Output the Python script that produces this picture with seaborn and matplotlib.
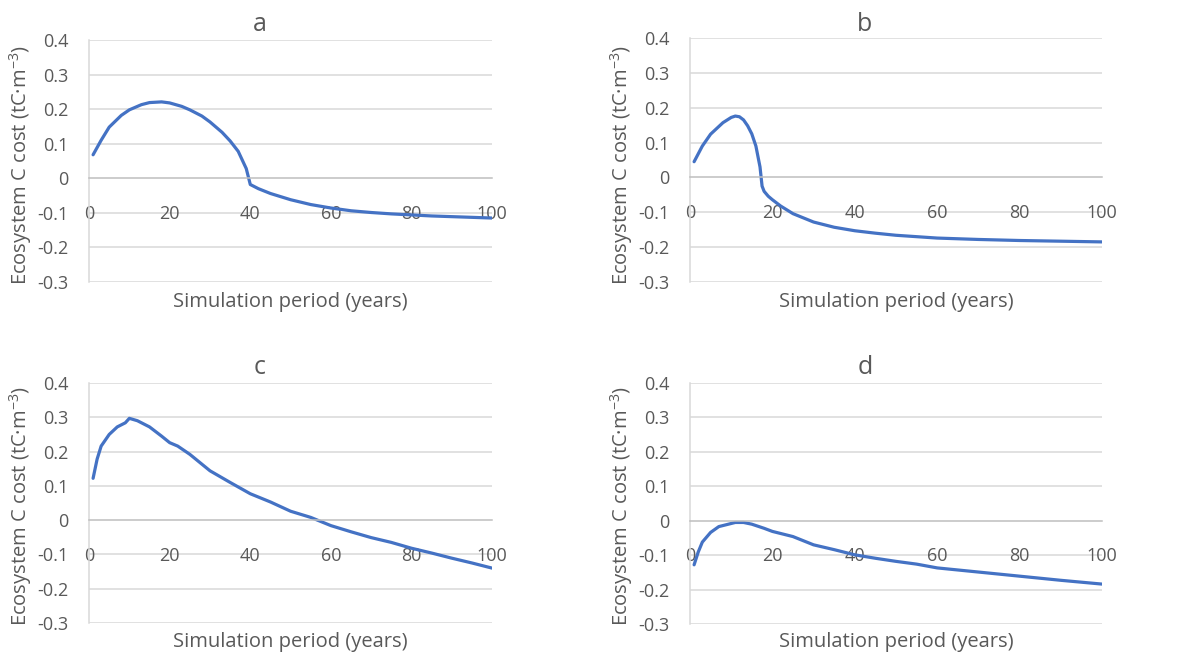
import numpy as np
import pandas as pd
import matplotlib
matplotlib.use("Agg")
import matplotlib.pyplot as plt
import seaborn as sns

# values (year, ecosystem C cost)
years_a = [1, 3, 5, 8, 10, 13, 15, 18, 20, 23, 25, 28, 30, 33, 35, 37, 39, 40, 42, 45,
           50, 55, 60, 65, 70, 75, 80, 85, 90, 95, 100]
cost_a = [0.068, 0.11, 0.148, 0.182, 0.198, 0.213, 0.219, 0.221, 0.218, 0.208, 0.198, 0.18,
          0.163, 0.133, 0.108, 0.078, 0.028, -0.018, -0.03, -0.044, -0.062, -0.076, -0.086,
          -0.094, -0.099, -0.103, -0.106, -0.109, -0.111, -0.113, -0.115]

years_b = [1, 3, 5, 8, 10, 11, 12, 13, 14, 15, 16, 17, 17.5, 18, 19, 20, 22, 25, 30, 35,
           40, 45, 50, 60, 70, 80, 90, 100]
cost_b = [0.045, 0.09, 0.124, 0.157, 0.172, 0.176, 0.174, 0.165, 0.148, 0.125, 0.09, 0.03,
          -0.025, -0.04, -0.054, -0.064, -0.082, -0.104, -0.128, -0.143, -0.153, -0.16,
          -0.166, -0.174, -0.178, -0.181, -0.183, -0.185]

years_c = [1, 2, 3, 5, 7, 9, 10, 12, 15, 18, 20, 22, 25, 30, 35, 40, 45, 50, 55, 60, 65,
           70, 75, 80, 85, 90, 95, 100]
cost_c = [0.122, 0.178, 0.216, 0.25, 0.272, 0.284, 0.297, 0.29, 0.272, 0.245, 0.226, 0.216,
          0.192, 0.144, 0.11, 0.077, 0.053, 0.026, 0.008, -0.016, -0.034, -0.051, -0.065,
          -0.082, -0.096, -0.111, -0.125, -0.14]

years_d = [1, 2, 3, 5, 7, 9, 11, 13, 15, 18, 20, 25, 30, 35, 40, 45, 50, 55, 60, 70, 80,
           90, 100]
cost_d = [-0.128, -0.091, -0.062, -0.034, -0.017, -0.011, -0.005, -0.005, -0.01, -0.022,
          -0.031, -0.046, -0.07, -0.084, -0.099, -0.109, -0.118, -0.126, -0.137, -0.149,
          -0.161, -0.173, -0.184]

panels = ["a", "b", "c", "d"]
x_ticks = [0, 20, 40, 60, 80, 100]
y_ticks = [-0.3, -0.2, -0.1, 0, 0.1, 0.2, 0.3, 0.4]
y_tick_labels = ["-0.3", "-0.2", "-0.1", "0", "0.1", "0.2", "0.3", "0.4"]

df = pd.concat([
    pd.DataFrame({"year": years_a, "cost": cost_a, "panel": "a"}),
    pd.DataFrame({"year": years_b, "cost": cost_b, "panel": "b"}),
    pd.DataFrame({"year": years_c, "cost": cost_c, "panel": "c"}),
    pd.DataFrame({"year": years_d, "cost": cost_d, "panel": "d"}),
])

sns.set_style("white")
plt.rcParams["font.family"] = ["Open Sans", "DejaVu Sans"]
plt.rcParams["mathtext.fontset"] = "custom"
plt.rcParams["mathtext.rm"] = "Open Sans"
plt.rcParams["mathtext.it"] = "Open Sans"

txt = "#595959"
grid = "#d9d9d9"
blue = "#4472C4"

fig = plt.figure(figsize=(11.89, 6.57), dpi=100)

# axes boxes [left, bottom, width, height] and text anchors per panel
boxes = {
    "a": [0.0749, 0.5708, 0.339, 0.3683],
    "b": [0.5803, 0.5708, 0.3465, 0.3714],
    "c": [0.0749, 0.0518, 0.339, 0.3652],
    "d": [0.5803, 0.0502, 0.3465, 0.3668],
}
title_pos = {"a": (0.2187, 0.962), "b": (0.7275, 0.962), "c": (0.2187, 0.440), "d": (0.7275, 0.441)}
xlab_pos = {"a": (0.2439, 0.540), "b": (0.7536, 0.540), "c": (0.2439, 0.023), "d": (0.7536, 0.023)}
ylab_pos = {"a": (0.017, 0.749), "b": (0.523, 0.749), "c": (0.017, 0.230), "d": (0.523, 0.230)}

for p in panels:
    ax = fig.add_axes(boxes[p])
    sub = df[df["panel"] == p]
    sns.lineplot(data=sub, x="year", y="cost", ax=ax, color=blue, linewidth=2.3)

    ax.set_xlim(0, 100)
    ax.set_ylim(-0.3, 0.4)
    ax.set_yticks(y_ticks)
    ax.set_yticklabels(y_tick_labels)
    ax.set_xticks(x_ticks)
    ax.set_xticklabels([str(t) for t in x_ticks])
    for y in y_ticks:
        if y != 0:
            ax.axhline(y, color=grid, linewidth=1.1, zorder=0)

    ax.spines["bottom"].set_position(("data", 0))
    ax.spines["bottom"].set_color("#bfbfbf")
    ax.spines["bottom"].set_linewidth(1.1)
    ax.spines["left"].set_color(grid)
    ax.spines["left"].set_linewidth(1.1)
    ax.spines["top"].set_visible(False)
    ax.spines["right"].set_visible(False)

    ax.tick_params(axis="x", direction="out", length=5, width=1.1, color="#bfbfbf",
                   pad=14, labelsize=13, labelcolor=txt)
    ax.tick_params(axis="y", length=0, pad=15, labelsize=13, labelcolor=txt)
    ax.set_xlabel("")
    ax.set_ylabel("")

    fig.text(*title_pos[p], p, ha="center", va="center", fontsize=18, color=txt)
    fig.text(*xlab_pos[p], "Simulation period (years)", ha="center", va="center",
             fontsize=14.5, color=txt)
    fig.text(*ylab_pos[p], "Ecosystem C cost (tC·m$^{-3}$)", ha="center", va="center",
             rotation=90, fontsize=14.5, color=txt)

fig.savefig("out.png", dpi=100)
